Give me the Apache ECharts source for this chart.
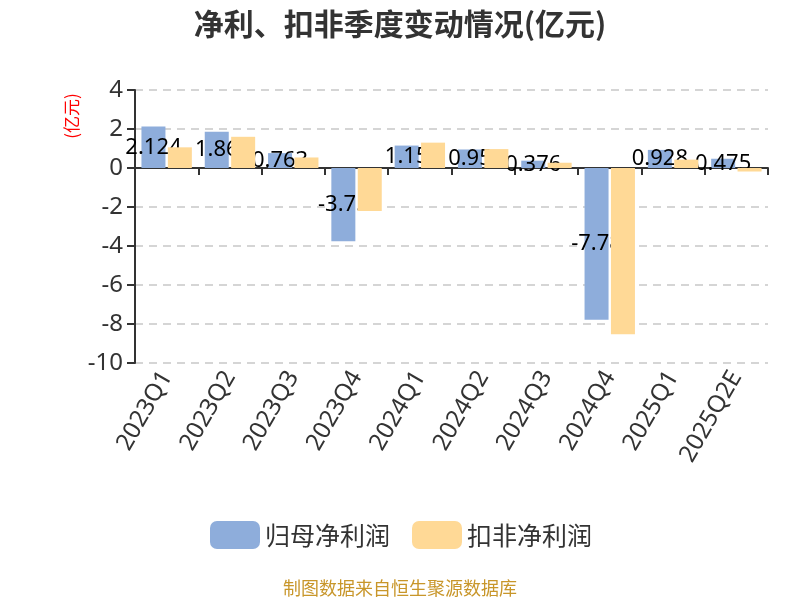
<!DOCTYPE html>
<html>
<head>
<meta charset="utf-8">
<script src="https://cdn.jsdelivr.net/npm/echarts@6/dist/echarts.min.js"></script>
<style>html,body{margin:0;padding:0;background:#fff;}#c{width:800px;height:600px;}</style>
</head>
<body>
<div id="c"></div>
<script>
var categories = ['2023Q1','2023Q2','2023Q3','2023Q4','2024Q1','2024Q2','2024Q3','2024Q4','2025Q1','2025Q2E'];
var netProfit = [2.124, 1.86, 0.763, -3.75, 1.15, 0.95, 0.376, -7.78, 0.928, 0.475];
var deductedProfit = [1.06, 1.60, 0.54, -2.20, 1.30, 0.97, 0.27, -8.53, 0.43, -0.18];
var seriesNames = ['归母净利润', '扣非净利润'];
var yTicks = {min: -10, max: 4, interval: 2};

var chart = echarts.init(document.getElementById('c'));
chart.setOption({
  animation: false,
  backgroundColor: '#fff',
  title: {
    text: '净利、扣非季度变动情况(亿元)',
    left: 'center', top: 4,
    textStyle: {fontSize: 30, fontWeight: 'bold', color: '#333', fontFamily: 'Noto Sans CJK SC'}
  },
  graphic: [{
    type: 'text', x: 72, y: 116, rotation: Math.PI / 2,
    style: {text: '(亿元)', fill: '#ff0000', fontSize: 17, fontFamily: 'Noto Sans CJK SC', align: 'center', verticalAlign: 'middle'}
  }, {
    type: 'text', left: 'center', top: 579,
    style: {text: '制图数据来自恒生聚源数据库', fill: '#c8962a', fontSize: 18, fontFamily: 'Noto Sans CJK SC'}
  }],
  legend: {
    bottom: 46, left: 205,
    itemWidth: 50, itemHeight: 28, itemGap: 22,
    icon: 'roundRect',
    textStyle: {fontSize: 25, color: '#333', fontFamily: 'Noto Sans CJK SC'},
    data: seriesNames
  },
  grid: {left: 135, right: 32, top: 90, bottom: 237, containLabel: false},
  xAxis: {
    type: 'category', data: categories,
    axisLine: {onZero: true, lineStyle: {color: '#333', width: 2}},
    axisTick: {show: true, length: 7, lineStyle: {color: '#333', width: 2}},
    axisLabel: {rotate: 60, fontSize: 24, color: '#333', interval: 0, fontFamily: 'Noto Sans', margin: 10}
  },
  yAxis: {
    type: 'value', min: yTicks.min, max: yTicks.max, interval: yTicks.interval,
    axisLine: {show: true, lineStyle: {color: '#333', width: 2}},
    axisTick: {show: true, length: 8, lineStyle: {color: '#333', width: 2}},
    axisLabel: {fontSize: 24, color: '#333', fontFamily: 'Noto Sans', margin: 12},
    splitLine: {show: true, lineStyle: {type: [8, 6], color: '#c8c8c8', width: 1.5}}
  },
  series: [{
    name: seriesNames[0], type: 'bar', data: netProfit, z: 2,
    barWidth: 24, barGap: '10%',
    itemStyle: {color: '#8eaddb'},
    label: {show: true, position: 'inside', color: '#000', fontSize: 22, fontFamily: 'Noto Sans'}
  }, {
    name: seriesNames[1], type: 'bar', data: deductedProfit, z: 3,
    barWidth: 24, barGap: '10%',
    itemStyle: {color: '#ffd996'}
  }]
});
</script>
</body>
</html>
